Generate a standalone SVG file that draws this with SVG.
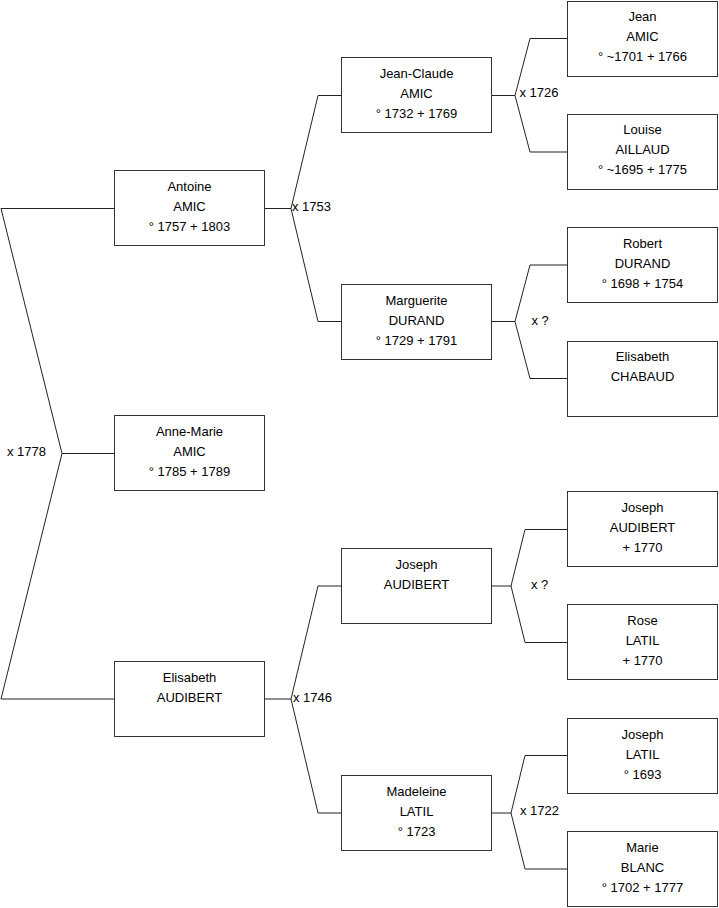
<svg xmlns="http://www.w3.org/2000/svg" width="719" height="908" viewBox="0 0 719 908">
<style>
.box{fill:#fff;stroke:#333;stroke-width:1}
.t{font-family:"Liberation Sans",Arial,sans-serif;font-size:13px;fill:#000;text-anchor:middle}
.l{font-family:"Liberation Sans",Arial,sans-serif;font-size:13px;fill:#000}
.c{fill:none;stroke:#222;stroke-width:1}
</style>
<rect width="719" height="908" fill="#fff"/>
<g id="connectors">
<path class="c" d="M114.5,208.5 H1 L62,453.5 L1,699 H114.5 M62,453.5 H114.5"/>
<path class="c" d="M264.5,208.5 H291 L318,95.5 H341.5 M291,208.5 L318,321.5 H341.5"/>
<path class="c" d="M264.5,699 H291 L318,586 H341.5 M291,699 L318,813 H341.5"/>
<path class="c" d="M491.5,95.5 H515 L530,38.5 H567.5 M515,95.5 L530,152 H567.5"/>
<path class="c" d="M491.5,321.5 H515 L530,265 H567.5 M515,321.5 L530,378.5 H567.5"/>
<path class="c" d="M491.5,586 H511 L525,529.5 H567.5 M511,586 L525,642.5 H567.5"/>
<path class="c" d="M491.5,813 H511 L525,755.5 H567.5 M511,813 L525,869 H567.5"/>
<text class="l" x="7" y="456">x 1778</text>
<text class="l" x="292" y="211">x 1753</text>
<text class="l" x="293" y="702">x 1746</text>
<text class="l" x="519.5" y="97">x 1726</text>
<text class="l" x="531.5" y="325">x ?</text>
<text class="l" x="531" y="589">x ?</text>
<text class="l" x="520" y="815">x 1722</text>
</g>
<g id="antoine"><rect class="box" x="114.5" y="170.5" width="150" height="75"/>
<text class="t" x="189.5" y="191">Antoine</text><text class="t" x="189.5" y="211">AMIC</text><text class="t" x="189.5" y="231">° 1757 + 1803</text></g>
<g id="annemarie"><rect class="box" x="114.5" y="415.5" width="150" height="75"/>
<text class="t" x="189.5" y="436">Anne-Marie</text><text class="t" x="189.5" y="456">AMIC</text><text class="t" x="189.5" y="476">° 1785 + 1789</text></g>
<g id="elisabeth"><rect class="box" x="114.5" y="661.5" width="150" height="75"/>
<text class="t" x="189.5" y="682">Elisabeth</text><text class="t" x="189.5" y="702">AUDIBERT</text></g>
<g id="jeanclaude"><rect class="box" x="341.5" y="57.5" width="150" height="75"/>
<text class="t" x="416.5" y="78">Jean-Claude</text><text class="t" x="416.5" y="98">AMIC</text><text class="t" x="416.5" y="118">° 1732 + 1769</text></g>
<g id="marguerite"><rect class="box" x="341.5" y="284.5" width="150" height="75"/>
<text class="t" x="416.5" y="305">Marguerite</text><text class="t" x="416.5" y="325">DURAND</text><text class="t" x="416.5" y="345">° 1729 + 1791</text></g>
<g id="joseph"><rect class="box" x="341.5" y="548.5" width="150" height="75"/>
<text class="t" x="416.5" y="569">Joseph</text><text class="t" x="416.5" y="589">AUDIBERT</text></g>
<g id="madeleine"><rect class="box" x="341.5" y="775.5" width="150" height="75"/>
<text class="t" x="416.5" y="796">Madeleine</text><text class="t" x="416.5" y="816">LATIL</text><text class="t" x="416.5" y="836">° 1723</text></g>
<g id="jean"><rect class="box" x="567.5" y="1.5" width="150" height="75"/>
<text class="t" x="642.5" y="21">Jean</text><text class="t" x="642.5" y="41">AMIC</text><text class="t" x="642.5" y="61">° ~1701 + 1766</text></g>
<g id="louise"><rect class="box" x="567.5" y="114.5" width="150" height="75"/>
<text class="t" x="642.5" y="134">Louise</text><text class="t" x="642.5" y="154">AILLAUD</text><text class="t" x="642.5" y="174">° ~1695 + 1775</text></g>
<g id="robert"><rect class="box" x="567.5" y="227.5" width="150" height="75"/>
<text class="t" x="642.5" y="248">Robert</text><text class="t" x="642.5" y="268">DURAND</text><text class="t" x="642.5" y="288">° 1698 + 1754</text></g>
<g id="elisabethc"><rect class="box" x="567.5" y="341.5" width="150" height="75"/>
<text class="t" x="642.5" y="361">Elisabeth</text><text class="t" x="642.5" y="381">CHABAUD</text></g>
<g id="josepha"><rect class="box" x="567.5" y="491.5" width="150" height="75"/>
<text class="t" x="642.5" y="512">Joseph</text><text class="t" x="642.5" y="532">AUDIBERT</text><text class="t" x="642.5" y="552">+ 1770</text></g>
<g id="rose"><rect class="box" x="567.5" y="604.5" width="150" height="75"/>
<text class="t" x="642.5" y="625">Rose</text><text class="t" x="642.5" y="645">LATIL</text><text class="t" x="642.5" y="665">+ 1770</text></g>
<g id="josephl"><rect class="box" x="567.5" y="718.5" width="150" height="75"/>
<text class="t" x="642.5" y="739">Joseph</text><text class="t" x="642.5" y="759">LATIL</text><text class="t" x="642.5" y="779">° 1693</text></g>
<g id="marie"><rect class="box" x="567.5" y="831.5" width="150" height="75"/>
<text class="t" x="642.5" y="852">Marie</text><text class="t" x="642.5" y="872">BLANC</text><text class="t" x="642.5" y="892">° 1702 + 1777</text></g>
</svg>
